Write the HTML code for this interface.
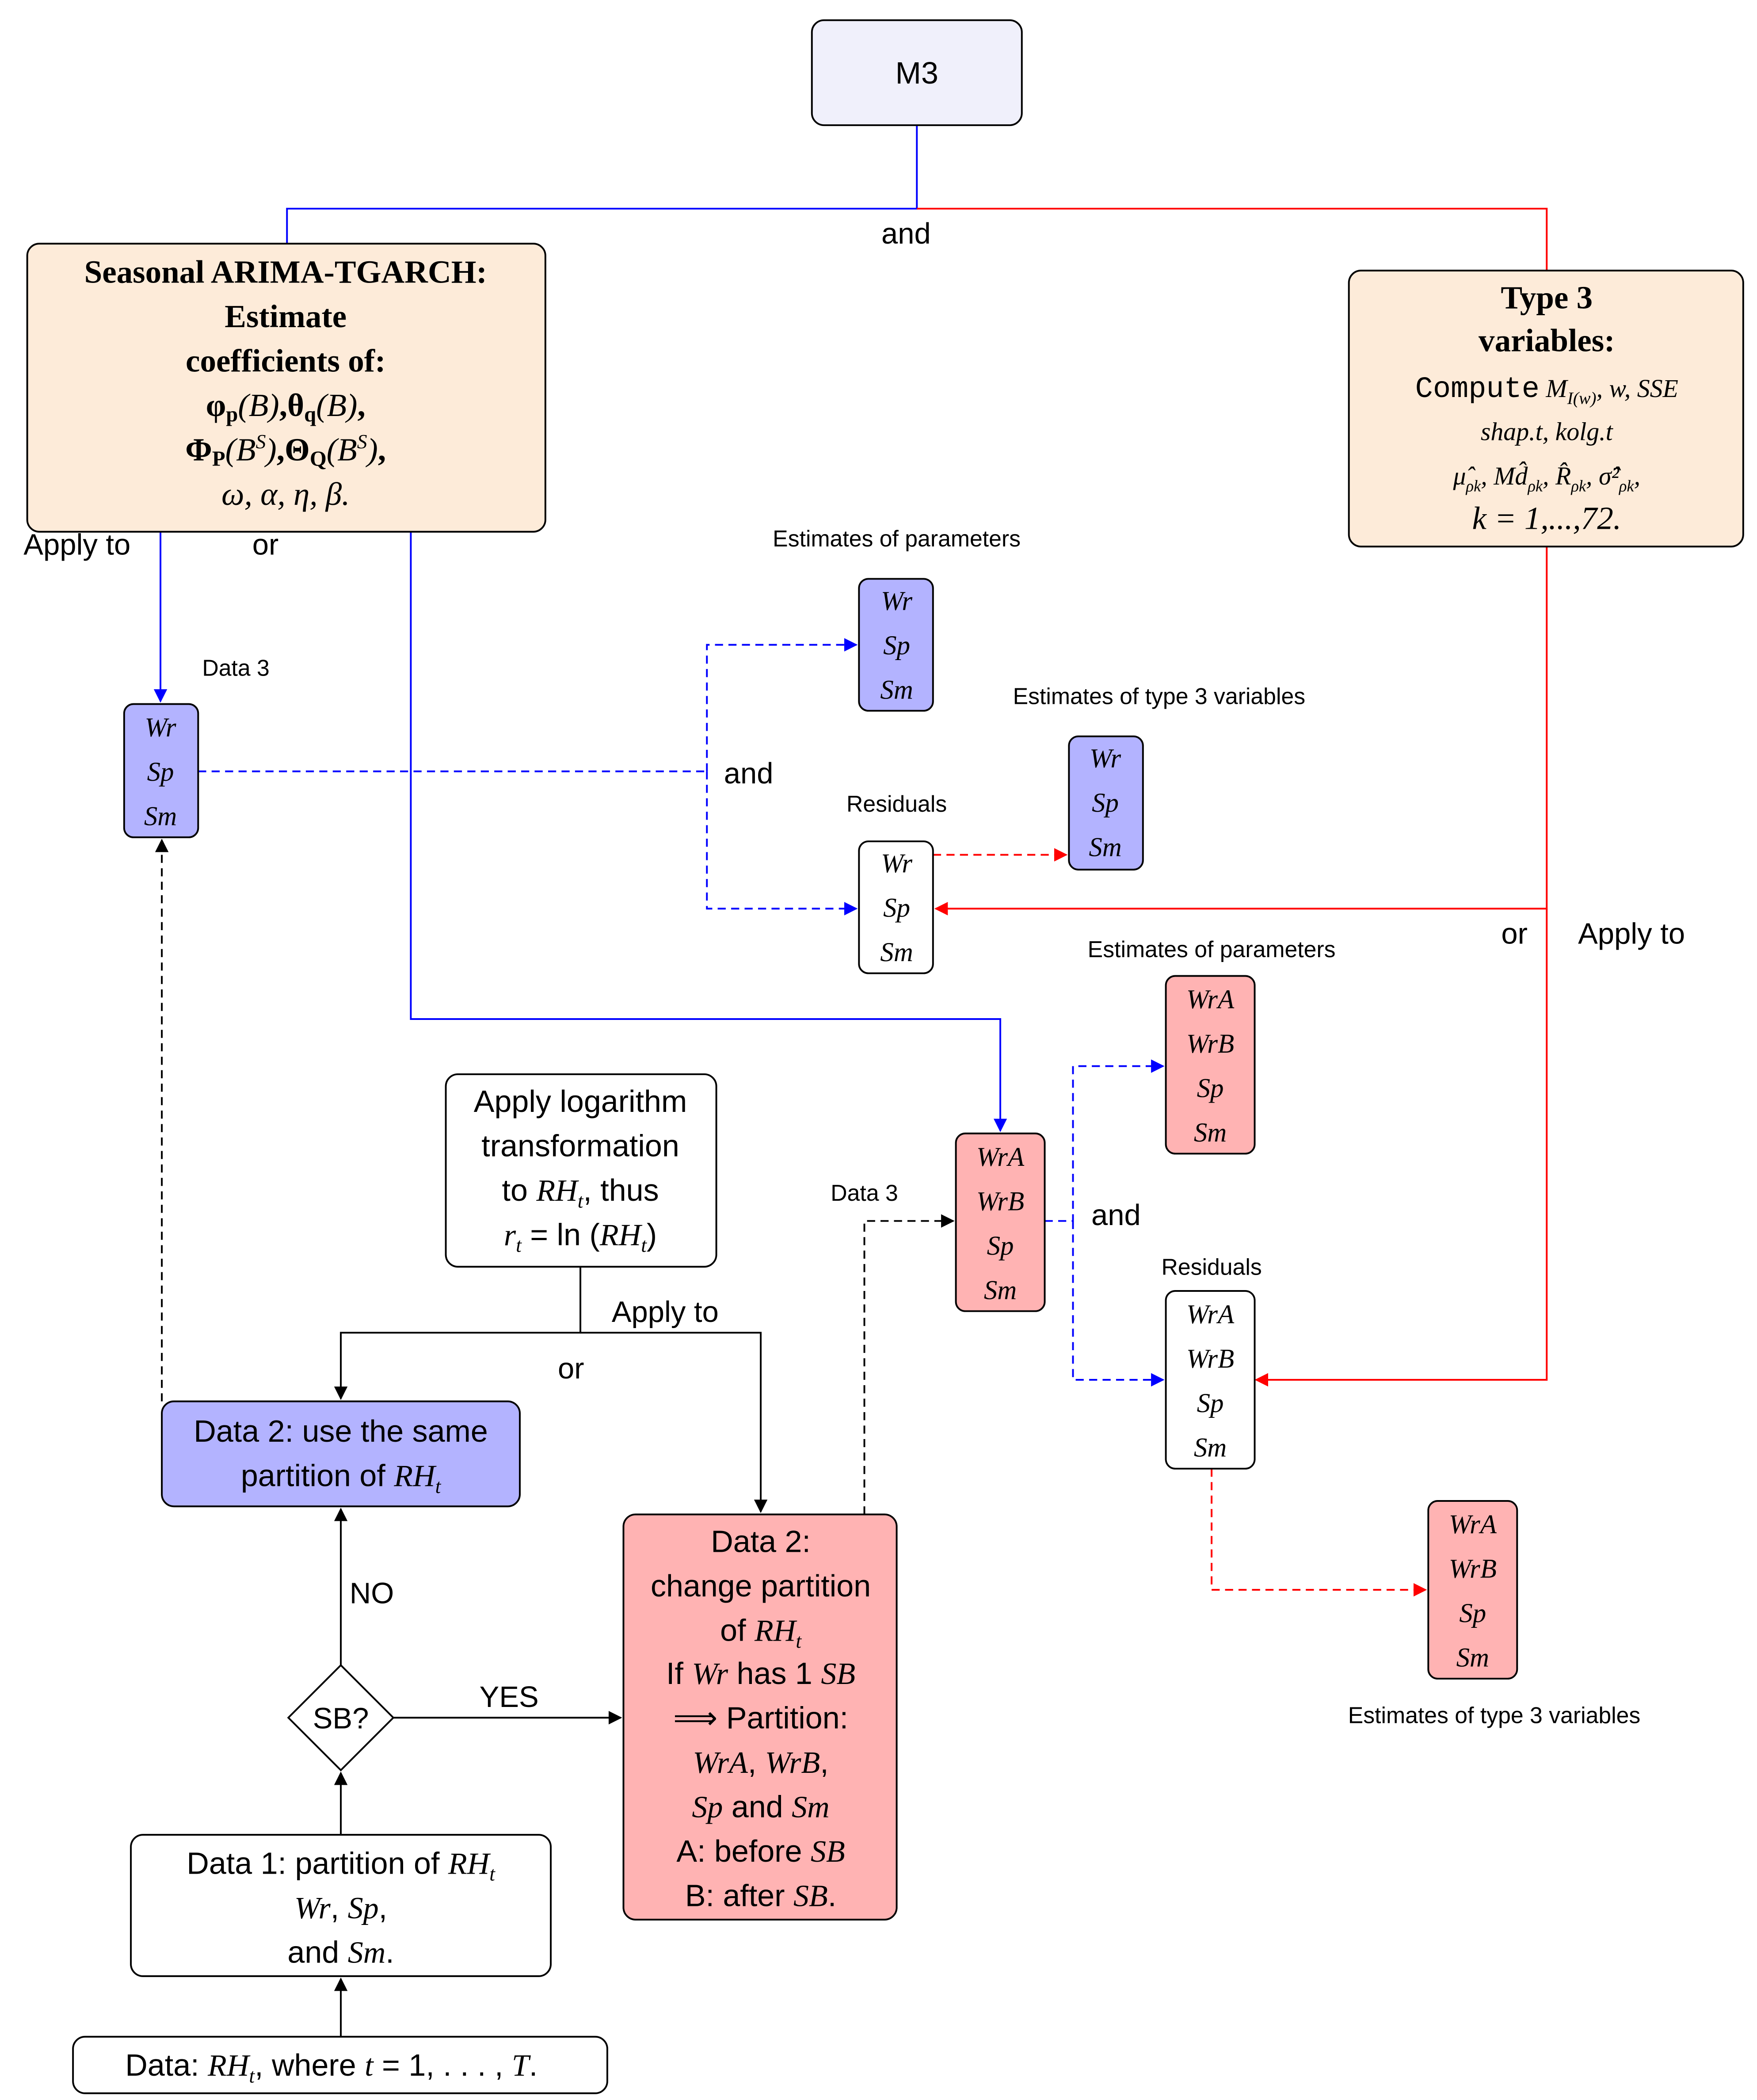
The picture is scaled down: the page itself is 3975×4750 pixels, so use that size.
<!DOCTYPE html>
<html><head><meta charset="utf-8"><style>
html,body{margin:0;padding:0;background:#fff;}
svg{display:block;}
.s{font-family:"Liberation Sans",sans-serif;}
.m{font-family:"Liberation Serif",serif;font-style:italic;}
.b{font-family:"Liberation Serif",serif;font-weight:bold;}
</style></head><body>
<svg width="3975" height="4750" viewBox="0 0 1305 1560" xmlns="http://www.w3.org/2000/svg">
<defs>
<marker id="ab" markerWidth="10" markerHeight="10" refX="9" refY="5" orient="auto" markerUnits="userSpaceOnUse"><path d="M0,0 L10,5 L0,10 z" fill="#00f"/></marker>
<marker id="ar" markerWidth="10" markerHeight="10" refX="9" refY="5" orient="auto" markerUnits="userSpaceOnUse"><path d="M0,0 L10,5 L0,10 z" fill="#f00"/></marker>
<marker id="ak" markerWidth="10" markerHeight="10" refX="9" refY="5" orient="auto" markerUnits="userSpaceOnUse"><path d="M0,0 L10,5 L0,10 z" fill="#000"/></marker>
</defs>
<g fill="none" stroke-width="1.3">
<!-- top connectors -->
<path d="M681,93 V155 H213 V181" stroke="#00f"/>
<path d="M681,155 H1149 V201" stroke="#f00"/>
<path d="M119,395 V521" stroke="#00f" marker-end="url(#ab)"/>
<path d="M305,395 V757 H743 V840" stroke="#00f" marker-end="url(#ab)"/>
<path d="M147,573 H525" stroke="#00f" stroke-dasharray="6,4"/>
<path d="M525,573 V479 H636" stroke="#00f" stroke-dasharray="6,4" marker-end="url(#ab)"/>
<path d="M525,573 V675 H636" stroke="#00f" stroke-dasharray="6,4" marker-end="url(#ab)"/>
<path d="M693,635 H792" stroke="#f00" stroke-dasharray="6,4" marker-end="url(#ar)"/>
<path d="M1149,406 V675 H695" stroke="#f00" marker-end="url(#ar)"/>
<path d="M1149,675 V1025 H933" stroke="#f00" marker-end="url(#ar)"/>
<path d="M776,907 H797 V792 H864" stroke="#00f" stroke-dasharray="6,4" marker-end="url(#ab)"/>
<path d="M797,907 V1025 H864" stroke="#00f" stroke-dasharray="6,4" marker-end="url(#ab)"/>
<path d="M900,1091 V1181 H1059" stroke="#f00" stroke-dasharray="6,4" marker-end="url(#ar)"/>
<path d="M642,1125 V907 H708" stroke="#000" stroke-dasharray="6,4" marker-end="url(#ak)"/>
<path d="M431,941 V990 H253 V1039" stroke="#000" marker-end="url(#ak)"/>
<path d="M431,990 H565 V1123" stroke="#000" marker-end="url(#ak)"/>
<path d="M120,1041 V624" stroke="#000" stroke-dasharray="6,4" marker-end="url(#ak)"/>
<path d="M253,1237 V1121" stroke="#000" marker-end="url(#ak)"/>
<path d="M292,1276 H461" stroke="#000" marker-end="url(#ak)"/>
<path d="M253,1363 V1317" stroke="#000" marker-end="url(#ak)"/>
<path d="M253,1513 V1470" stroke="#000" marker-end="url(#ak)"/>
</g>
<g stroke="#000" stroke-width="1.3">
<rect x="603" y="15" width="156" height="78" rx="9" fill="#f0f0fb"/>
<rect x="20" y="181" width="385" height="214" rx="9" fill="#fdebd9"/>
<rect x="1002" y="201" width="293" height="205" rx="9" fill="#fdebd9"/>
<rect x="92" y="523" width="55" height="99" rx="7" fill="#b3b3ff"/>
<rect x="638" y="430" width="55" height="98" rx="7" fill="#b3b3ff"/>
<rect x="638" y="625" width="55" height="98" rx="7" fill="#fff"/>
<rect x="794" y="547" width="55" height="99" rx="7" fill="#b3b3ff"/>
<rect x="866" y="725" width="66" height="132" rx="7" fill="#ffb3b3"/>
<rect x="710" y="842" width="66" height="132" rx="7" fill="#ffb3b3"/>
<rect x="866" y="959" width="66" height="132" rx="7" fill="#fff"/>
<rect x="1061" y="1115" width="66" height="132" rx="7" fill="#ffb3b3"/>
<rect x="331" y="798" width="201" height="143" rx="9" fill="#fff"/>
<rect x="120" y="1041" width="266" height="78" rx="9" fill="#b3b3ff"/>
<rect x="463" y="1125" width="203" height="301" rx="9" fill="#ffb3b3"/>
<path d="M253,1237 L292,1276 L253,1315 L214,1276 z" fill="#fff"/>
<rect x="97" y="1363" width="312" height="105" rx="9" fill="#fff"/>
<rect x="54" y="1513" width="397" height="42" rx="9" fill="#fff"/>
</g>
<g text-anchor="middle" fill="#000">
<text class="s" x="681" y="62" font-size="23">M3</text>
<text class="s" x="673" y="181" font-size="22">and</text>
<g font-size="24">
<text class="b" x="212" y="210">Seasonal ARIMA-TGARCH:</text>
<text class="b" x="212" y="243">Estimate</text>
<text class="b" x="212" y="276">coefficients of:</text>
<text class="b" x="212" y="309">φ<tspan font-size="16" dy="4">p</tspan><tspan dy="-4" font-weight="normal" font-style="italic">(B)</tspan>,θ<tspan font-size="16" dy="4">q</tspan><tspan dy="-4" font-weight="normal" font-style="italic">(B)</tspan>,</text>
<text class="b" x="212" y="342">Φ<tspan font-size="16" dy="4">P</tspan><tspan dy="-4" font-weight="normal" font-style="italic">(B<tspan font-size="15" dy="-9">S</tspan><tspan dy="9">)</tspan></tspan>,Θ<tspan font-size="16" dy="4">Q</tspan><tspan dy="-4" font-weight="normal" font-style="italic">(B<tspan font-size="15" dy="-9">S</tspan><tspan dy="9">)</tspan></tspan>,</text>
<text class="m" x="212" y="375">ω, α, η, β.</text>
</g>
<text class="b" x="1149" y="229" font-size="24">Type 3</text>
<text class="b" x="1149" y="261" font-size="24">variables:</text>
<text x="1149" y="295" font-size="22"><tspan font-family="Liberation Mono">Compute</tspan><tspan class="m" font-size="19"> M<tspan font-size="13" dy="5">I(w)</tspan><tspan dy="-5">, w, SSE</tspan></tspan></text>
<text class="m" x="1149" y="327" font-size="19">shap.t, kolg.t</text>
<text class="m" x="1149" y="360" font-size="19">μ̂<tspan font-size="12" dy="5">ρk</tspan><tspan dy="-5">, Md̂</tspan><tspan font-size="12" dy="5">ρk</tspan><tspan dy="-5">, R̂</tspan><tspan font-size="12" dy="5">ρk</tspan><tspan dy="-5">, σ̂²</tspan><tspan font-size="12" dy="5">ρk</tspan><tspan dy="-5">,</tspan></text>
<text class="m" x="1149" y="393" font-size="24">k = 1,...,72.</text>
<text class="s" x="57" y="412" font-size="22">Apply to</text>
<text class="s" x="197" y="412" font-size="22">or</text>
<text class="s" x="175" y="502" font-size="17">Data 3</text>
<g class="m" font-size="20"><text x="119" y="547">Wr</text><text x="119" y="580">Sp</text><text x="119" y="613">Sm</text></g>
<text class="s" x="666" y="406" font-size="17">Estimates of parameters</text>
<g class="m" font-size="20"><text x="666" y="453">Wr</text><text x="666" y="486">Sp</text><text x="666" y="519">Sm</text></g>
<text class="s" x="556" y="582" font-size="22">and</text>
<text class="s" x="666" y="603" font-size="17">Residuals</text>
<g class="m" font-size="20"><text x="666" y="648">Wr</text><text x="666" y="681">Sp</text><text x="666" y="714">Sm</text></g>
<text class="s" x="861" y="523" font-size="17">Estimates of type 3 variables</text>
<g class="m" font-size="20"><text x="821" y="570">Wr</text><text x="821" y="603">Sp</text><text x="821" y="636">Sm</text></g>
<text class="s" x="1125" y="701" font-size="22">or</text>
<text class="s" x="1212" y="701" font-size="22">Apply to</text>
<text class="s" x="900" y="711" font-size="17">Estimates of parameters</text>
<g class="m" font-size="20"><text x="899" y="749">WrA</text><text x="899" y="782">WrB</text><text x="899" y="815">Sp</text><text x="899" y="848">Sm</text></g>
<text class="s" x="642" y="892" font-size="17">Data 3</text>
<g class="m" font-size="20"><text x="743" y="866">WrA</text><text x="743" y="899">WrB</text><text x="743" y="932">Sp</text><text x="743" y="965">Sm</text></g>
<text class="s" x="829" y="910" font-size="22">and</text>
<text class="s" x="900" y="947" font-size="17">Residuals</text>
<g class="m" font-size="20"><text x="899" y="983">WrA</text><text x="899" y="1016">WrB</text><text x="899" y="1049">Sp</text><text x="899" y="1082">Sm</text></g>
<g class="m" font-size="20"><text x="1094" y="1139">WrA</text><text x="1094" y="1172">WrB</text><text x="1094" y="1205">Sp</text><text x="1094" y="1238">Sm</text></g>
<text class="s" x="1110" y="1280" font-size="17">Estimates of type 3 variables</text>
<g class="s" font-size="23">
<text x="431" y="826">Apply logarithm</text>
<text x="431" y="859">transformation</text>
<text x="431" y="892">to <tspan class="m">RH<tspan font-size="15" dy="5">t</tspan></tspan><tspan dy="-5">, thus</tspan></text>
<text x="431" y="925"><tspan class="m">r<tspan font-size="15" dy="5">t</tspan></tspan><tspan dy="-5"> = ln (</tspan><tspan class="m">RH<tspan font-size="15" dy="5">t</tspan></tspan><tspan dy="-5">)</tspan></text>
<text x="494" y="982" font-size="22">Apply to</text>
<text x="424" y="1024" font-size="22">or</text>
<text x="253" y="1071">Data 2: use the same</text>
<text x="253" y="1104">partition of <tspan class="m">RH<tspan font-size="15" dy="5">t</tspan></tspan></text>
<text x="276" y="1191" font-size="22">NO</text>
<text x="378" y="1268" font-size="22">YES</text>
<text x="253" y="1284" font-size="22">SB?</text>
<text x="565" y="1153">Data 2:</text>
<text x="565" y="1186">change partition</text>
<text x="565" y="1219">of <tspan class="m">RH<tspan font-size="15" dy="5">t</tspan></tspan></text>
<text x="565" y="1251">If <tspan class="m">Wr</tspan> has 1 <tspan class="m">SB</tspan></text>
<text x="565" y="1284">⟹ Partition:</text>
<text x="565" y="1317"><tspan class="m">WrA</tspan>, <tspan class="m">WrB</tspan>,</text>
<text x="565" y="1350"><tspan class="m">Sp</tspan> and <tspan class="m">Sm</tspan></text>
<text x="565" y="1383">A: before <tspan class="m">SB</tspan></text>
<text x="565" y="1416">B: after <tspan class="m">SB</tspan>.</text>
<text x="253" y="1392">Data 1: partition of <tspan class="m">RH<tspan font-size="15" dy="5">t</tspan></tspan></text>
<text x="253" y="1425"><tspan class="m">Wr</tspan>, <tspan class="m">Sp</tspan>,</text>
<text x="253" y="1458">and <tspan class="m">Sm</tspan>.</text>
<text x="246" y="1542">Data: <tspan class="m">RH<tspan font-size="15" dy="5">t</tspan></tspan><tspan dy="-5">, where </tspan><tspan class="m">t</tspan> = 1, . . . , <tspan class="m">T</tspan>.</text>
</g>
</g>
</svg>
</body></html>
